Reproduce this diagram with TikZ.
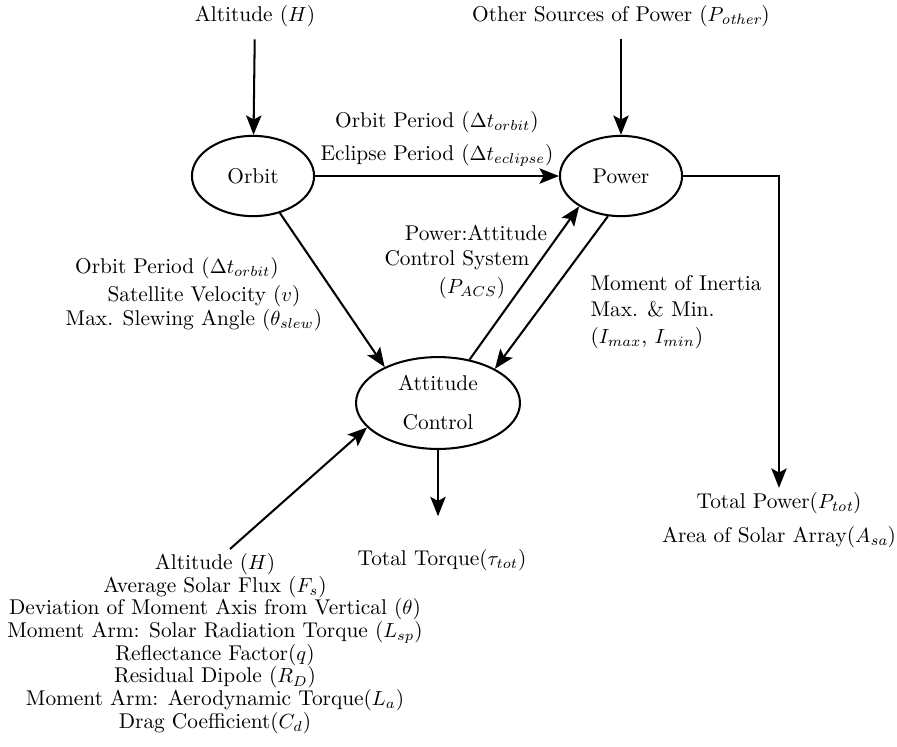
\documentclass[tikz,border=0pt]{standalone}
\usepackage{amsmath}
\usetikzlibrary{shapes.geometric,arrows.meta}

\begin{document}
\begin{tikzpicture}[x=0.0172cm, y=-0.0172cm,
    font=\fontsize{10.45pt}{11.1pt}\selectfont,
    block/.style = {draw, ellipse, line width=1pt, inner sep=0pt},
    flow/.style = {line width=1pt, -{Stealth[length=9.5pt, width=7.5pt, inset=2pt]}},
    label/.style = {inner sep=2pt}
    ]
    \useasboundingbox (0,0) rectangle (897,746);

    % the three subsystems
    \node [block, minimum width=2.1cm, minimum height=1.38cm] (orbit) at (253,176) {Orbit};
    \node [block, minimum width=2.1cm, minimum height=1.38cm] (power) at (621,176) {Power};
    \node [block, minimum width=2.82cm, minimum height=1.58cm, align=center] (att) at (438,403)
        {Attitude\\[8pt] Control};

    % inputs and outputs
    \node [label] (alt) at (255,16) {Altitude ($H$)};
    \node [label] (other) at (621,16) {Other Sources of Power ($P_{\textit{other}}$)};
    \node [label] (totpower) at (779,503) {Total Power($P_{\textit{tot}}$)};
    \node [label] (area) at (779,537) {Area of Solar Array($A_{\textit{sa}}$)};
    \node [label] (torque) at (442,560) {Total Torque($\tau_{tot}$)};
    \node [label, align=center, anchor=north] (params) at (215,549)
        {Altitude ($H$)\\
        Average Solar Flux ($F_s$)\\
        Deviation of Moment Axis from Vertical ($\theta$)\\
        Moment Arm: Solar Radiation Torque ($L_{sp}$)\\
        Reflectance Factor($q$)\\
        Residual Dipole ($R_D$)\\
        Moment Arm: Aerodynamic Torque($L_a$)\\
        Drag Coefficient($C_d$)};

    % labels on the links
    \node [label] (orbper) at (437,122) {Orbit Period ($\Delta t_{orbit}$)};
    \node [label] (eclper) at (437,155) {Eclipse Period ($\Delta t_{eclipse}$)};
    \node [label] (orbper2) at (177,268) {Orbit Period ($\Delta t_{orbit}$)};
    \node [label] (velo) at (204,296) {Satellite Velocity ($v$)};
    \node [label] (slew) at (194,320) {Max. Slewing Angle ($\theta_{slew}$)};
    \node [label] (pacs1) at (476,233) {Power:Attitude};
    \node [label] (pacs2) at (457,260) {Control System};
    \node [label] (pacs3) at (472,288) {($P_{ACS}$)};
    \node [label, align=left, anchor=west] (inertia) at (586,312)
        {Moment of Inertia\\[2pt] Max. \& Min.\\[2pt] ($I_{max}$, $I_{min}$)};

    \draw [flow, shorten <=4pt] (alt) -- (orbit);
    \draw [flow, shorten <=4pt] (other) -- (power);
    \draw [flow] (orbit) -- (power);
    \draw [flow] (orbit.-54) -- (att.146);
    \draw [flow] (att.54) -- (power.216);
    \draw [flow] (power.-108) -- (att.31);
    \draw [flow] (power.east) -| (totpower.north);
    \draw [flow, shorten >=14pt] (att.south) -- (att.south |- torque.north);
    \draw [flow] (params.81) -- (att.199);
\end{tikzpicture}
\end{document}
